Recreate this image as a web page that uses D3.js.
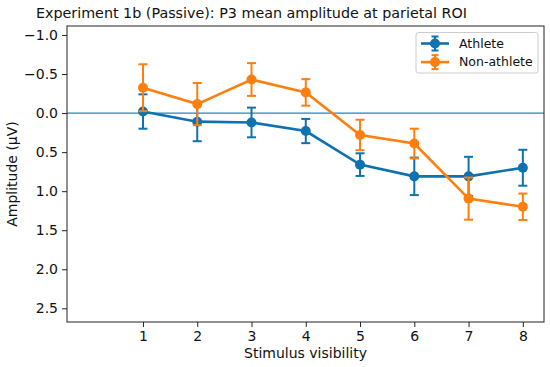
<!DOCTYPE html>
<html>
<head>
<meta charset="utf-8">
<script src="https://cdn.jsdelivr.net/npm/d3@7"></script>
<style>
  body { margin: 0; background: #fff; }
  svg { font-family: "DejaVu Sans", sans-serif; }
</style>
</head>
<body>
<div class="chart"></div>
<script>
const visibility = [1, 2, 3, 4, 5, 6, 7, 8];
const athleteMean = [-0.02, 0.11, 0.12, 0.23, 0.66, 0.81, 0.81, 0.70];
const athleteErr = [0.22, 0.25, 0.19, 0.155, 0.145, 0.24, 0.25, 0.23];
const nonAthleteMean = [-0.325, -0.115, -0.43, -0.265, 0.28, 0.39, 1.095, 1.2];
const nonAthleteErr = [0.30, 0.27, 0.21, 0.17, 0.195, 0.19, 0.27, 0.17];
const yTicks = [-1.0, -0.5, 0.0, 0.5, 1.0, 1.5, 2.0, 2.5];

const series = [
    {name: "Athlete", color: "#0f72b0", mean: athleteMean, err: athleteErr},
    {name: "Non-athlete", color: "#ff7f0e", mean: nonAthleteMean, err: nonAthleteErr}
];

const W = 550, H = 367;
const margin = ({top: 26, right: 6, bottom: 45, left: 67});
const w = W - margin.left - margin.right;
const h = H - margin.top - margin.bottom;

const svg = d3.select(".chart")
    .append("svg")
    .attr("width", W)
    .attr("height", H);

const g = svg.append("g")
    .attr("transform", `translate(${margin.left},${margin.top})`);

const x = d3.scaleLinear()
    .domain([-0.4, 8.39])
    .range([0, w]);

// inverted: negative values up
const y = d3.scaleLinear()
    .domain([-1.115, 2.675])
    .range([0, h]);

const fmt = d => d3.format(".1f")(d).replace("-", "\u2212");

g.append("g")
    .attr("transform", `translate(0,${h})`)
    .call(d3.axisBottom(x).tickValues(visibility).tickFormat(d3.format("d")).tickSize(5).tickPadding(4))
    .call(a => a.select(".domain").remove())
    .call(a => a.selectAll("text").attr("font-size", 14).attr("fill", "#111").attr("font-family", "DejaVu Sans"))
    .call(a => a.selectAll("line").attr("stroke", "#222"));

g.append("g")
    .call(d3.axisLeft(y).tickValues(yTicks).tickFormat(fmt).tickSize(5).tickPadding(4))
    .call(a => a.select(".domain").remove())
    .call(a => a.selectAll("text").attr("font-size", 14).attr("fill", "#111").attr("font-family", "DejaVu Sans"))
    .call(a => a.selectAll("line").attr("stroke", "#222"));

// zero line
g.append("line")
    .attr("x1", 0).attr("x2", w)
    .attr("y1", y(0)).attr("y2", y(0))
    .attr("stroke", "#1f86c0")
    .attr("stroke-width", 1.3);

const line = d3.line()
    .x((d, i) => x(visibility[i]))
    .y(d => y(d));

series.forEach(s => {
    const sg = g.append("g");
    sg.append("path")
        .datum(s.mean)
        .attr("fill", "none")
        .attr("stroke", s.color)
        .attr("stroke-width", 2.6)
        .attr("d", line);

    const eb = sg.selectAll(".eb")
        .data(s.mean)
        .join("g");
    eb.append("line")
        .attr("x1", (d, i) => x(visibility[i]))
        .attr("x2", (d, i) => x(visibility[i]))
        .attr("y1", (d, i) => y(d - s.err[i]))
        .attr("y2", (d, i) => y(d + s.err[i]))
        .attr("stroke", s.color)
        .attr("stroke-width", 2);
    [-1, 1].forEach(sign => {
        eb.append("line")
            .attr("x1", (d, i) => x(visibility[i]) - 4.5)
            .attr("x2", (d, i) => x(visibility[i]) + 4.5)
            .attr("y1", (d, i) => y(d + sign * s.err[i]))
            .attr("y2", (d, i) => y(d + sign * s.err[i]))
            .attr("stroke", s.color)
            .attr("stroke-width", 2);
    });
    sg.selectAll("circle")
        .data(s.mean)
        .join("circle")
        .attr("cx", (d, i) => x(visibility[i]))
        .attr("cy", d => y(d))
        .attr("r", 5)
        .attr("fill", s.color);
});

// frame
g.append("rect")
    .attr("width", w).attr("height", h)
    .attr("fill", "none")
    .attr("stroke", "#222")
    .attr("stroke-width", 1);

// legend
const lg = g.append("g")
    .attr("transform", `translate(${w - 128},${6.5})`);
lg.append("rect")
    .attr("width", 122).attr("height", 40.5)
    .attr("rx", 2.5)
    .attr("fill", "#fff")
    .attr("fill-opacity", 0.8)
    .attr("stroke", "#ccc");
series.forEach((s, i) => {
    const yy = 11 + i * 18.6;
    lg.append("line").attr("x1", 5).attr("x2", 33).attr("y1", yy).attr("y2", yy)
        .attr("stroke", s.color).attr("stroke-width", 2.6);
    lg.append("line").attr("x1", 19).attr("x2", 19).attr("y1", yy - 7).attr("y2", yy + 7)
        .attr("stroke", s.color).attr("stroke-width", 2);
    lg.append("line").attr("x1", 15.5).attr("x2", 22.5).attr("y1", yy - 7).attr("y2", yy - 7)
        .attr("stroke", s.color).attr("stroke-width", 2);
    lg.append("line").attr("x1", 15.5).attr("x2", 22.5).attr("y1", yy + 7).attr("y2", yy + 7)
        .attr("stroke", s.color).attr("stroke-width", 2);
    lg.append("circle").attr("cx", 19).attr("cy", yy).attr("r", 5).attr("fill", s.color);
    lg.append("text").attr("x", 43).attr("y", yy).attr("dy", "0.35em")
        .attr("font-size", 12.5).attr("fill", "#111").text(s.name);
});

// title and axis labels
svg.append("text")
    .attr("x", 251.5).attr("y", 18)
    .attr("text-anchor", "middle")
    .attr("font-size", 14.3).attr("fill", "#111")
    .text("Experiment 1b (Passive): P3 mean amplitude at parietal ROI");

svg.append("text")
    .attr("x", margin.left + w / 2).attr("y", 358)
    .attr("text-anchor", "middle")
    .attr("font-size", 14).attr("fill", "#111")
    .text("Stimulus visibility");

svg.append("text")
    .attr("transform", `translate(17,${margin.top + h / 2}) rotate(-90)`)
    .attr("text-anchor", "middle")
    .attr("font-size", 14).attr("fill", "#111")
    .text("Amplitude (\u03bcV)");
</script>
</body>
</html>
